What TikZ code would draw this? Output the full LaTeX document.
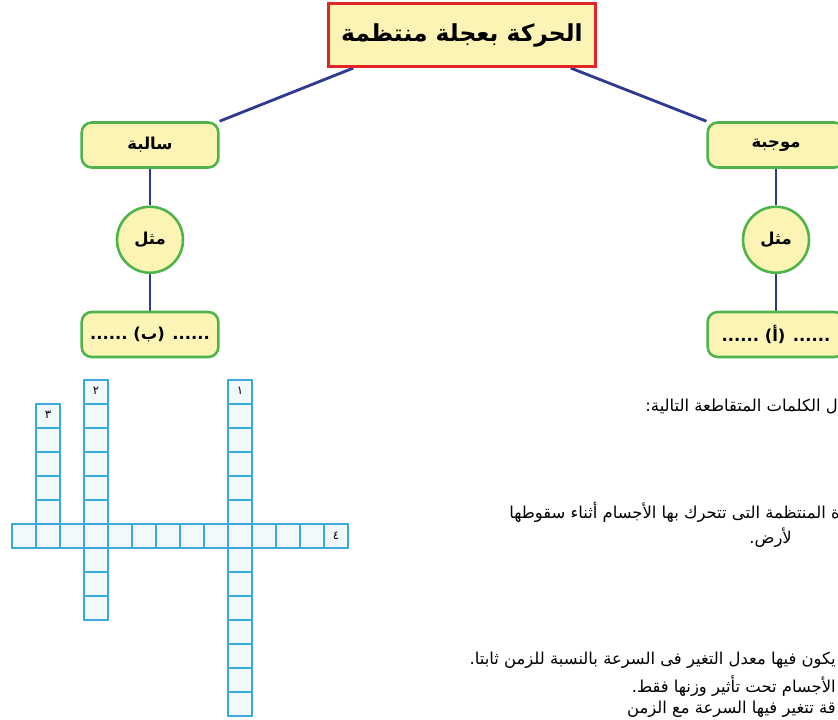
\documentclass[tikz,border=0pt]{standalone}
\usepackage{fontspec}
\usepackage{xcolor}
\usetikzlibrary{positioning, backgrounds}
\TeXXeTstate=1
\newfontfamily\arabicfont[Script=Arabic]{DejaVu Sans}
\definecolor{linkblue}{HTML}{2E3A92}
\definecolor{boxgreen}{HTML}{4DB34A}
\definecolor{boxyellow}{HTML}{FCF4B4}
\definecolor{titlered}{HTML}{E42528}
\definecolor{gridblue}{HTML}{3AAAD9}
\definecolor{gridfill}{HTML}{F2F9FD}

\begin{document}
\begin{tikzpicture}[
  x=0.03cm, y=-0.03cm,
  node distance=1.1cm,
  head/.style={draw=titlered, line width=2.4pt, fill=boxyellow,
               minimum width=8cm, minimum height=1.9cm,
               font=\arabicfont\bfseries\fontsize{20}{24}\selectfont},
  sel/.style={draw=boxgreen, line width=2.2pt, fill=boxyellow,
              rounded corners=0.3cm, minimum width=4.1cm, minimum height=1.35cm,
              font=\arabicfont\bfseries\fontsize{14}{16}\selectfont},
  ex/.style={circle, draw=boxgreen, line width=2.2pt, fill=boxyellow,
             minimum size=1.98cm, inner sep=0pt,
             font=\arabicfont\bfseries\fontsize{14}{16}\selectfont},
  link/.style={draw=linkblue, line width=2.4pt},
  cell/.style={draw=gridblue, line width=0.9pt, fill=gridfill},
  num/.style={font=\arabicfont\fontsize{10}{10}\selectfont, inner sep=0pt},
  txt/.style={anchor=east, inner sep=0pt,
              font=\arabicfont\fontsize{14}{16}\selectfont}
]
\useasboundingbox (0,0) rectangle (838,719);

% concept map
\node[head] (main) at (462,35) {\beginR الحركة بعجلة منتظمة\endR};
\node[sel] (neg) at (150,145) {\beginR سالبة\endR};
\node[sel] (pos) at (776,145) {\beginR موجبة\endR};
\node[ex, below=of neg] (exn) {\beginR مثل\endR};
\node[ex, below=of pos] (exp) {\beginR مثل\endR};
\node[sel, below=of exn] (ansb) {\beginR ...... (ب) ......\endR};
\node[sel, below=of exp] (ansa) {\beginR ...... (أ) ......\endR};

\begin{scope}[on background layer]
  \fill[white] (0,0) rectangle (838,719);
  \draw[link] ([xshift=0.78cm]main.south west) -- (neg.north east);
  \draw[link] ([xshift=-0.78cm]main.south east) -- (pos.north west);
  \draw[link] (neg) -- (exn) -- (ansb);
  \draw[link] (pos) -- (exp) -- (ansa);
\end{scope}

% crossword
\foreach \i in {0,...,13}
  \draw[cell] (12+24*\i,524) rectangle ++(24,24);
\foreach \j in {-6,...,7}
  \draw[cell] (228,524+24*\j) rectangle ++(24,24);
\foreach \j in {-6,...,3}
  \draw[cell] (84,524+24*\j) rectangle ++(24,24);
\foreach \j in {-5,...,0}
  \draw[cell] (36,524+24*\j) rectangle ++(24,24);
\node[num] (n1) at (240,391) {١};
\node[num] (n2) at (96,391) {٢};
\node[num] (n3) at (48,415) {٣};
\node[num] (n4) at (336,536) {٤};

% questions
\node[txt] (q0) at (838,407) {\beginR ل الكلمات المتقاطعة التالية:\endR};
\node[txt] (q1) at (840,512) {\beginR ة المنتظمة التى تتحرك بها الأجسام أثناء سقوطها\endR};
\node[txt] (q1b) at (792,538) {\beginR لأرض.\endR};
\node[txt] (q2) at (836,660) {\beginR يكون فيها معدل التغير فى السرعة بالنسبة للزمن ثابتا.\endR};
\node[txt] (q3) at (836,686) {\beginR الأجسام تحت تأثير وزنها فقط.\endR};
\node[txt] (q4) at (836,709) {\beginR قة تتغير فيها السرعة مع الزمن\endR};
\end{tikzpicture}
\end{document}
